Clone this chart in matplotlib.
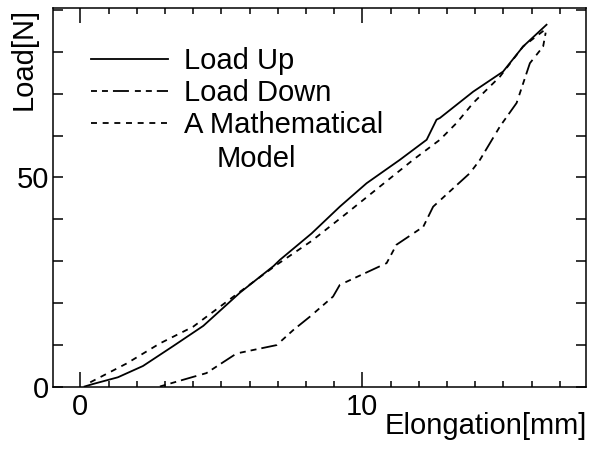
import matplotlib
matplotlib.use("Agg")
from matplotlib import pyplot as plt
from matplotlib.ticker import MultipleLocator, FixedLocator

plt.rcParams['font.family'] = ['Liberation Sans', 'DejaVu Sans']
plt.rcParams['lines.scale_dashes'] = False

# Load Up (solid)
up_x = [0.15, 0.45, 1.33, 2.22, 3.3, 4.36, 5.67, 6.85, 7.08, 8.2, 9.2, 10.15,
        11.33, 12.28, 12.63, 12.75, 13.93, 14.99, 15.7, 16.53]
up_y = [0.0, 0.6, 2.2, 4.9, 9.7, 14.5, 22.5, 28.8, 30.3, 36.6, 43.0, 48.6,
        54.2, 59.0, 63.8, 64.2, 70.5, 75.3, 81.3, 86.5]

# Load Down (dash-dot)
down_x = [2.82, 4.0, 4.47, 5.54, 6.96, 7.55, 8.14, 8.96, 9.2, 10.86, 11.21,
          12.16, 12.51, 13.24, 13.81, 14.17, 14.88, 15.47, 15.94, 16.41, 16.5]
down_y = [0.0, 2.3, 3.2, 7.9, 9.9, 13.5, 16.7, 21.5, 24.3, 29.5, 33.9,
          38.2, 43.0, 47.5, 51.0, 54.2, 62.2, 67.8, 77.3, 81.3, 84.6]

# A Mathematical Model (dotted)
model_x = [0.35, 1.64, 2.82, 4.0, 5.67, 6.96, 8.2, 9.44, 10.62, 11.8, 12.75,
           13.34, 13.93, 14.88, 15.7, 16.47]
model_y = [1.0, 5.5, 10.3, 14.3, 22.7, 29.1, 34.8, 41.4, 47.8, 54.2, 59.0,
           63.0, 67.8, 74.1, 81.3, 85.3]

fs = 21
fig = plt.figure(figsize=(5.99, 4.5), dpi=100)
ax = fig.add_axes([53 / 599, 1 - 386.5 / 450, 533 / 599, 378.5 / 450])

ax.plot(up_x, up_y, color='black', lw=1.3, label='Load Up')
ax.plot(down_x, down_y, color='black', lw=1.3,
        linestyle=(0, (4.3, 3.6, 4.3, 3.6, 11.5, 4.3)), label='Load Down')
ax.plot(model_x, model_y, color='black', lw=1.3,
        linestyle=(0, (4.3, 4.1)), label='A Mathematical')

ax.set_xlim(-0.97, 17.93)
ax.set_ylim(0, 90.5)

ax.xaxis.set_major_locator(FixedLocator([0, 10]))
ax.xaxis.set_minor_locator(MultipleLocator(1))
ax.yaxis.set_major_locator(MultipleLocator(10))
ax.yaxis.set_major_formatter(plt.FuncFormatter(
    lambda v, p: '0' if abs(v) < 1e-6 else ('50' if abs(v - 50) < 1e-6 else '')))

ax.tick_params(axis='x', which='major', direction='in', length=11, width=1.1,
               top=True, labelsize=fs, pad=5)
ax.tick_params(axis='x', which='minor', direction='in', length=4.5, width=1.1,
               top=True)
ax.tick_params(axis='y', which='major', direction='in', length=7, width=1.1,
               right=True, labelsize=fs, pad=3)
for s in ax.spines.values():
    s.set_linewidth(1.1)

ax.set_xlabel('Elongation[mm]', fontsize=fs, ha='right')
ax.xaxis.set_label_coords(1.002, -0.067)
ax.set_ylabel('Load[N]', fontsize=fs, loc='top')
ax.yaxis.set_label_coords(-0.028, 1.0)

leg = ax.legend(loc='upper left', bbox_to_anchor=(0.071, 0.897), frameon=False,
                fontsize=fs, handlelength=2.65, handletextpad=0.55,
                labelspacing=0.14, borderpad=0, borderaxespad=0)
# second line of the model label, indented under "A Mathematical"
# (drawn after the legend so the legend text position is already known)
ax.annotate('Model', xy=(0, 0), xycoords=leg.get_texts()[2],
            xytext=(32, -6), textcoords='offset pixels',
            ha='left', va='top', fontsize=fs, zorder=10)

fig.savefig('out.png', dpi=100)
